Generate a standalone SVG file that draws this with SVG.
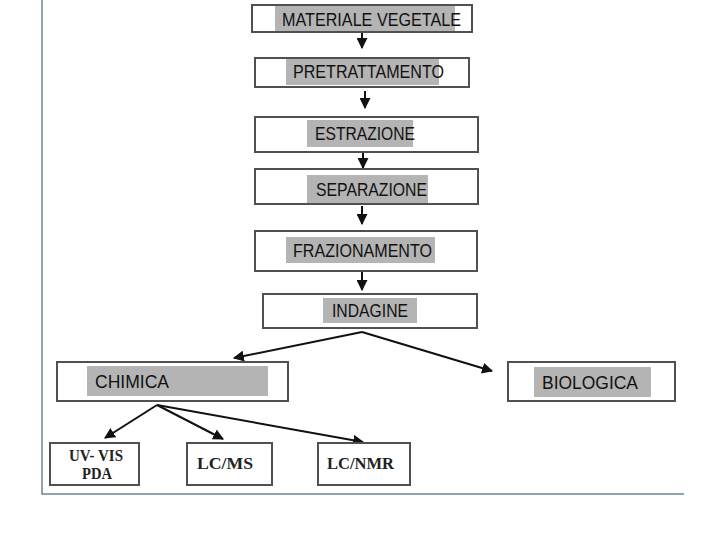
<svg xmlns="http://www.w3.org/2000/svg" width="720" height="540" viewBox="0 0 720 540">
<style>
.box{fill:#ffffff;stroke:#505050;stroke-width:2}
.hl{fill:#b4b4b4}
.t{font-family:"Liberation Sans",Arial,sans-serif;font-size:18px;fill:#111}
.s{font-family:"Liberation Serif","Times New Roman",serif;font-size:16px;font-weight:bold;fill:#222}
.c{stroke:#111;stroke-width:2;fill:none}
.frame{stroke:#6a8896;stroke-width:1.5;fill:none}
</style>
<defs>
<marker id="ah" viewBox="0 0 10 10" refX="9" refY="5" markerWidth="5.5" markerHeight="5.5" orient="auto" markerUnits="strokeWidth">
<path d="M0,0 L10,5 L0,10 z" fill="#111"/>
</marker>
</defs>
<polyline class="frame" points="42,0 42,494 684,494"/>
<g id="connectors">
<line class="c" x1="362" y1="33" x2="362" y2="48" marker-end="url(#ah)"/>
<line class="c" x1="365" y1="91" x2="365" y2="108" marker-end="url(#ah)"/>
<line class="c" x1="363" y1="153" x2="363" y2="168" marker-end="url(#ah)"/>
<line class="c" x1="362" y1="206" x2="362" y2="224" marker-end="url(#ah)"/>
<line class="c" x1="362" y1="272" x2="362" y2="290" marker-end="url(#ah)"/>
<path class="c" d="M362,332 L234,358" marker-end="url(#ah)"/>
<path class="c" d="M362,332 L492,371" marker-end="url(#ah)"/>
<path class="c" d="M157,405 L105,438" marker-end="url(#ah)"/>
<path class="c" d="M157,405 L223,439" marker-end="url(#ah)"/>
<path class="c" d="M157,405 L363,442" marker-end="url(#ah)"/>
</g>
<g id="n1">
<rect class="box" x="252" y="5" width="220" height="27"/>
<rect class="hl" x="275" y="6" width="180" height="25"/>
<text class="t" x="282" y="26" textLength="179" lengthAdjust="spacingAndGlyphs">MATERIALE VEGETALE</text>
</g>
<g id="n2">
<rect class="box" x="255" y="58" width="214" height="29"/>
<rect class="hl" x="286" y="59" width="153" height="26"/>
<text class="t" x="293" y="78" textLength="151" lengthAdjust="spacingAndGlyphs">PRETRATTAMENTO</text>
</g>
<g id="n3">
<rect class="box" x="255" y="117" width="223" height="35"/>
<rect class="hl" x="307" y="120" width="106" height="27"/>
<text class="t" x="315" y="140" textLength="100" lengthAdjust="spacingAndGlyphs">ESTRAZIONE</text>
</g>
<g id="n4">
<rect class="box" x="255" y="169" width="223" height="35"/>
<rect class="hl" x="307" y="175" width="121" height="28"/>
<text class="t" x="316" y="196" textLength="111" lengthAdjust="spacingAndGlyphs">SEPARAZIONE</text>
</g>
<g id="n5">
<rect class="box" x="255" y="231" width="222" height="40"/>
<rect class="hl" x="286" y="237" width="149" height="26"/>
<text class="t" x="293" y="257" textLength="139" lengthAdjust="spacingAndGlyphs">FRAZIONAMENTO</text>
</g>
<g id="n6">
<rect class="box" x="263" y="294" width="214" height="34"/>
<rect class="hl" x="323" y="298" width="94" height="25"/>
<text class="t" x="332" y="317" textLength="76" lengthAdjust="spacingAndGlyphs">INDAGINE</text>
</g>
<g id="n7">
<rect class="box" x="57" y="362" width="231" height="39"/>
<rect class="hl" x="87" y="366" width="181" height="30"/>
<text class="t" x="95" y="388" textLength="74" lengthAdjust="spacingAndGlyphs">CHIMICA</text>
</g>
<g id="n8">
<rect class="box" x="508" y="362" width="167" height="39"/>
<rect class="hl" x="534" y="367" width="117" height="30"/>
<text class="t" x="542" y="389" textLength="96" lengthAdjust="spacingAndGlyphs">BIOLOGICA</text>
</g>
<g id="n9">
<rect class="box" x="50" y="443" width="89" height="42"/>
<text class="s" x="69" y="461" textLength="54" lengthAdjust="spacingAndGlyphs">UV- VIS</text>
<text class="s" x="82" y="479" textLength="30" lengthAdjust="spacingAndGlyphs">PDA</text>
</g>
<g id="n10">
<rect class="box" x="187" y="443" width="85" height="42"/>
<text class="s" x="197" y="469" textLength="56" lengthAdjust="spacingAndGlyphs">LC/MS</text>
</g>
<g id="n11">
<rect class="box" x="318" y="443" width="92" height="42"/>
<text class="s" x="327" y="469" textLength="67" lengthAdjust="spacingAndGlyphs">LC/NMR</text>
</g>
</svg>
